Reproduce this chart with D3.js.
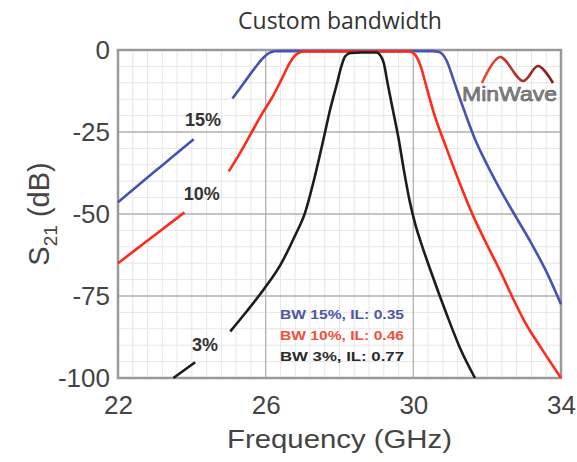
<!DOCTYPE html>
<html lang="en">
<head>
<meta charset="UTF-8">
<title>Custom bandwidth</title>
<style>
  body { margin: 0; background: #fff; }
  svg text { font-family: "Liberation Sans", Arial, sans-serif; }
</style>
</head>
<body>
<div id="chart"></div>
<script src="https://d3js.org/d3.v7.min.js"></script>
<script>
// axis ticks
const xTicks = [22, 26, 30, 34];
const yTicks = [0, -25, -50, -75, -100];

// BW 15% (blue) - null where the line is broken for the "15%" label
const bw15Freq = [22, 22.5, 23, 23.5, 24.05, 24.6, 25.1, 25.4, 25.7, 25.95, 26.1, 26.25, 26.5, 27, 28, 29, 30, 30.5, 30.7, 30.9, 31.1, 31.3, 31.7, 32.0, 32.4, 32.8, 33.2, 33.6, 34];
const bw15Db = [-46.4, -41.7, -37, -32.3, -27.2, null, -14.8, -10.2, -5.6, -2.2, -0.9, -0.4, -0.35, -0.35, -0.35, -0.35, -0.35, -0.35, -0.6, -3.2, -9.5, -16, -28, -35, -43.5, -51.3, -59, -67.5, -77.5];

// BW 10% (red)
const bw10Freq = [22, 22.5, 23, 23.5, 23.8, 24.4, 25.0, 25.3, 25.6, 25.9, 26.2, 26.45, 26.65, 26.85, 27.05, 28, 29, 29.9, 30.05, 30.2, 30.35, 30.55, 30.9, 31.27, 31.63, 32.0, 32.4, 32.71, 33.0, 33.5, 34];
const bw10Db = [-65, -60.7, -56.4, -52.1, -49.5, null, -37, -31.5, -25.5, -19.5, -14, -8.5, -4, -1.2, -0.46, -0.46, -0.46, -0.46, -1.5, -5, -11, -19, -30, -41, -50.8, -59.5, -68.5, -76, -82.5, -91.5, -100];

// BW 3% (black)
const bw3Freq = [23.5, 24.09, 24.6, 25.04, 25.5, 25.94, 26.4, 26.8, 27.07, 27.3, 27.56, 27.75, 27.93, 28.05, 28.15, 28.3, 28.6, 29.0, 29.1, 29.2, 29.3, 29.45, 29.6, 29.75, 29.9, 30.05, 30.2, 30.46, 30.9, 31.27, 31.67];
const bw3Db = [-100, -95.2, null, -85.8, -79.5, -73.1, -65.5, -56.5, -49.5, -40, -27.5, -18, -10.3, -5, -2, -0.9, -0.77, -0.77, -1.5, -4, -10, -18.5, -27, -37, -46, -53, -58.5, -67, -80.5, -91, -100];

const curveLabels = ["15%", "10%", "3%"];
const legendTexts = ["BW 15%, IL: 0.35", "BW 10%, IL: 0.46", "BW 3%, IL: 0.77"];

const W = 577, H = 462;
const margin = { top: 50, right: 16, bottom: 84, left: 118 };
const width = W - margin.left - margin.right,
      height = H - margin.top - margin.bottom;

const svg = d3.select("#chart").append("svg")
    .attr("width", W)
    .attr("height", H);

const g = svg.append("g")
    .attr("transform", `translate(${margin.left},${margin.top})`);

const x = d3.scaleLinear().domain([22, 34]).range([0, width]);
const y = d3.scaleLinear().domain([-100, 0]).range([height, 0]);

// minor grid
g.append("g").selectAll("line")
    .data(d3.range(22, 34.001, 0.4))
    .enter().append("line")
    .attr("x1", d => x(d)).attr("x2", d => x(d))
    .attr("y1", 0).attr("y2", height)
    .style("stroke", "#e6e6e6").style("stroke-width", 1);
g.append("g").selectAll("line")
    .data(d3.range(-100, 0.001, 5))
    .enter().append("line")
    .attr("y1", d => y(d)).attr("y2", d => y(d))
    .attr("x1", 0).attr("x2", width)
    .style("stroke", "#e6e6e6").style("stroke-width", 1);

// major grid
g.append("g").selectAll("line")
    .data(xTicks.slice(1, -1))
    .enter().append("line")
    .attr("x1", d => x(d)).attr("x2", d => x(d))
    .attr("y1", 0).attr("y2", height)
    .style("stroke", "#b4b4b4").style("stroke-width", 1.3);
g.append("g").selectAll("line")
    .data(yTicks.slice(1, -1))
    .enter().append("line")
    .attr("y1", d => y(d)).attr("y2", d => y(d))
    .attr("x1", 0).attr("x2", width)
    .style("stroke", "#b4b4b4").style("stroke-width", 1.3);

// frame
g.append("rect")
    .attr("width", width).attr("height", height)
    .style("fill", "none").style("stroke", "#9a9a9a").style("stroke-width", 2.5);

// curves
const series = [
    { f: bw15Freq, v: bw15Db, color: "#4753b0", label: curveLabels[0], lf: 24.3, lv: -21.4 },
    { f: bw10Freq, v: bw10Db, color: "#ff2a1c", label: curveLabels[1], lf: 24.27, lv: -43.9 },
    { f: bw3Freq, v: bw3Db, color: "#1c1c1c", label: curveLabels[2], lf: 24.36, lv: -89.8 }
];

const line = d3.line()
    .defined(d => d[1] !== null)
    .x(d => x(d[0]))
    .y(d => y(d[1]))
    .curve(d3.curveMonotoneX);

series.forEach(s => {
    g.append("path")
        .datum(s.f.map((f, i) => [f, s.v[i]]))
        .attr("d", line)
        .style("fill", "none")
        .style("stroke", s.color)
        .style("stroke-width", 2.6);

    g.append("text")
        .attr("x", x(s.lf))
        .attr("y", y(s.lv))
        .attr("dy", "0.35em")
        .style("text-anchor", "middle")
        .style("font-size", "18px")
        .style("font-weight", "bold")
        .style("fill", "#333")
        .text(s.label);
});

// legend text
const legendColors = ["#4e55a8", "#f2503e", "#2b2b2b"];
g.append("g").selectAll("text")
    .data(legendTexts)
    .enter().append("text")
    .attr("x", 162)
    .attr("y", (d, i) => 269 + i * 21)
    .style("font-size", "13px")
    .style("font-weight", "bold")
    .attr("textLength", 124)
    .attr("lengthAdjust", "spacingAndGlyphs")
    .style("fill", (d, i) => legendColors[i])
    .text(d => d);

// axes
const xAxis = g.append("g")
    .attr("transform", `translate(0,${height})`)
    .call(d3.axisBottom(x).tickValues(xTicks).tickSize(0).tickPadding(18).tickFormat(d => String(d)));
const yAxis = g.append("g")
    .call(d3.axisLeft(y).tickValues(yTicks).tickSize(0).tickPadding(8).tickFormat(d => String(d)));
[xAxis, yAxis].forEach(a => {
    a.select(".domain").remove();
    a.selectAll("text")
        .style("font-family", "'Liberation Sans', Arial, sans-serif")
        .style("font-size", "26px")
        .style("fill", "#444");
});

// axis labels
svg.append("text")
    .attr("x", margin.left + width / 2 - 0)
    .attr("y", 448)
    .style("text-anchor", "middle")
    .style("font-size", "26px")
    .style("fill", "#444")
    .attr("textLength", 225)
    .attr("lengthAdjust", "spacingAndGlyphs")
    .text("Frequency (GHz)");

const ylab = svg.append("text")
    .attr("transform", `translate(49,214) rotate(-90)`)
    .style("text-anchor", "middle")
    .style("font-size", "29px")
    .style("fill", "#444");
ylab.append("tspan").text("S");
ylab.append("tspan").attr("dy", 8).style("font-size", "19px").text("21");
ylab.append("tspan").attr("dy", -8).text(" (dB)");

// title
svg.append("text")
    .attr("x", 340)
    .attr("y", 29)
    .style("text-anchor", "middle")
    .style("font-family", "'Open Sans', sans-serif")
    .style("font-size", "23px")
    .style("fill", "#333")
    .text("Custom bandwidth");

// MinWave logo
const logo = svg.append("g").attr("transform", "translate(482,56)");
const grad = svg.append("defs").append("linearGradient").attr("id", "wv");
grad.append("stop").attr("offset", "0%").attr("stop-color", "#e8483a");
grad.append("stop").attr("offset", "100%").attr("stop-color", "#7d1f1a");
logo.append("path")
    .datum([[0, 27], [18, 1], [41, 25], [56, 10], [71, 27]])
    .attr("d", d3.line().curve(d3.curveCatmullRom))
    .style("fill", "none")
    .style("stroke", "url(#wv)")
    .style("stroke-width", 2.6);
logo.append("text")
    .attr("x", -20)
    .attr("y", 45)
    .style("font-size", "20px")
    .attr("textLength", 95)
    .attr("lengthAdjust", "spacingAndGlyphs")
    .style("fill", "#8c8c8c")
    .style("stroke", "#555")
    .style("stroke-width", 0.6)
    .text("MinWave");
</script>
</body>
</html>
